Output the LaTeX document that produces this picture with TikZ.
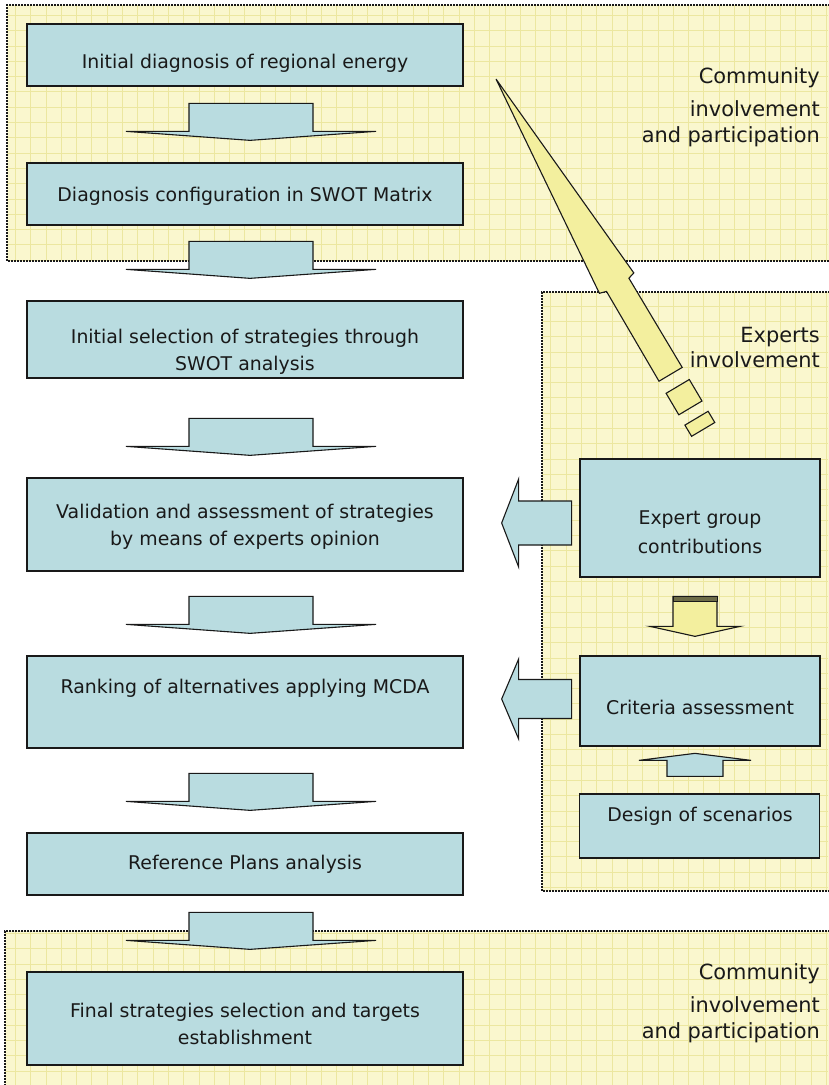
\documentclass[tikz,border=0pt]{standalone}
\usepackage{fontspec}
\setmainfont{DejaVu Sans}
\usetikzlibrary{calc}
\definecolor{boxblue}{RGB}{185,220,224}
\definecolor{regfill}{RGB}{250,247,206}
\definecolor{reggrid}{RGB}{236,231,160}
\definecolor{yarrow}{RGB}{243,239,158}
\definecolor{ink}{RGB}{25,25,25}
\newcommand\flowarrow[1]{\draw[flowarr] ($(#1.north)+(-56,-59)$) -- ++(124,0) -- ++(0,28) -- ++(63,0) -- ($(#1.north)+(5,-22)$) -- ($(#1.north)+(-119,-31)$) -- ++(63,0) -- cycle;}
\begin{document}
\begin{tikzpicture}[x=1pt,y=-1pt,
 box/.style={draw=ink, line width=1.3pt, fill=boxblue, inner sep=0pt},
 mainbox/.style={box, minimum width=436pt},
 expbox/.style={box, minimum width=240pt},
 txt/.style={text=ink, align=center, font=\fontsize{18.9}{27}\selectfont, inner sep=0pt},
 lbl/.style={text=ink, align=right, anchor=east, inner sep=0pt, font=\fontsize{20.9}{26}\selectfont},
 flowarr/.style={draw=ink, line width=1.1pt, fill=boxblue, line join=miter},
 yarr/.style={draw=ink, line width=1.1pt, fill=yarrow, line join=miter},
 gridl/.style={draw=reggrid, line width=0.8pt},
 border/.style={draw=ink, line width=2pt, dash pattern=on 1.6pt off 1.4pt}
]
\useasboundingbox (0,0) rectangle (828,1085);
\fill[white] (0,0) rectangle (828,1085);

% --- regions
\fill[regfill] (7,5) rectangle (830,261);
\draw[gridl, step=15.3pt] (7,261) grid (828,5);
\draw[border] (830,5) -- (7,5) -- (7,261) -- (830,261);

\fill[regfill] (542,292) rectangle (830,891);
\draw[gridl, step=15.3pt] (542,891) grid (828,292);
\draw[border] (830,292) -- (542,292) -- (542,891) -- (830,891);

\fill[regfill] (5,931) rectangle (830,1090);
\draw[gridl, step=15.3pt] (5,1085) grid (828,931);
\draw[border] (830,931) -- (5,931) -- (5,1090);

% --- labels
\node[lbl] (c1) at (820,107) {Community\\[7pt]involvement\\and participation};
\node[lbl, font=\fontsize{20.9}{25}\selectfont] (ex) at (820,347.5) {Experts\\involvement};
\node[lbl] (c2) at (820,1003) {Community\\[7pt]involvement\\and participation};

% --- main boxes
\node[mainbox, minimum height=62pt] (b1) at (245,55) {};
\node[mainbox, minimum height=62pt] (b2) at (245,194) {};
\node[mainbox, minimum height=77pt] (b3) at (245,339.5) {};
\node[mainbox, minimum height=93pt] (b4) at (245,524.5) {};
\node[mainbox, minimum height=92pt] (b5) at (245,702) {};
\node[mainbox, minimum height=62pt] (b6) at (245,864) {};
\node[mainbox, minimum height=93pt] (b7) at (245,1018.5) {};

\node[txt] (t1) at (245,63) {Initial diagnosis of regional energy};
\node[txt] (t2) at (245,196) {Diagnosis configuration in SWOT Matrix};
\node[txt] (t3) at (245,352) {Initial selection of strategies through\\SWOT analysis};
\node[txt] (t4) at (245,527) {Validation and assessment of strategies\\by means of experts opinion};
\node[txt] (t5) at (245,688) {Ranking of alternatives applying MCDA};
\node[txt] (t6) at (245,864) {Reference Plans analysis};
\node[txt] (t7) at (245,1024) {Final strategies selection and targets\\establishment};

% --- expert boxes
\node[expbox, minimum height=118pt] (e1) at (700,518) {};
\node[expbox, minimum height=90pt] (e2) at (700,701) {};
\node[expbox, minimum height=64pt] (e3) at (699.5,826) {};
\node[txt, font=\fontsize{18.9}{29}\selectfont] (te1) at (700,532) {Expert group\\contributions};
\node[txt] (te2) at (700,707) {Criteria assessment};
\node[txt] (te3) at (700,816) {Design of scenarios};

% --- flow arrows
\flowarrow{b2}
\flowarrow{b3}
\flowarrow{b4}
\flowarrow{b5}
\flowarrow{b6}
\flowarrow{b7}

% --- side arrows from experts
\path ($(b4.east)+(38,-1.5)$) coordinate (la1);
\draw[flowarr] (la1) -- ++(17,-44) -- ++(0,22) -- ++(53,0) -- ++(0,44) -- ++(-53,0) -- ++(0,22) -- cycle;
\path ($(b5.east)+(38,-3)$) coordinate (la2);
\draw[flowarr] (la2) -- ++(17,-40) -- ++(0,20.5) -- ++(53,0) -- ++(0,39) -- ++(-53,0) -- ++(0,20.5) -- cycle;

% --- up arrow scenarios -> criteria
\path ($(e3.north)+(-4.5,-40)$) coordinate (ua);
\draw[flowarr] (ua) -- ++(56,7) -- ++(-28,0) -- ++(0,16) -- ++(-56,0) -- ++(0,-16) -- ++(-28,0) -- cycle;

% --- yellow arrow expert group -> criteria
\path ($(e2.north)+(-5,-19)$) coordinate (ya);
\draw[yarr] (ya) -- ++(-45,-10) -- ++(23,0) -- ++(0,-30) -- ++(44,0) -- ++(0,30) -- ++(23,0) -- cycle;
\draw[draw=ink, line width=0.8pt, fill=yarrow!45!black] ($(ya)+(-22,-40)$) rectangle ++(44,5);

% --- big yellow broken arrow
\draw[yarr] (496,79) -- (633.8,272.9) -- (628.9,278.2) -- (682.2,367.4) -- (659,381.2) -- (606.5,291.4) -- (599.4,293.3) -- cycle;
\draw[yarr] (666.1,393.3) -- (689.3,379.5) -- (702,401) -- (678.8,414.8) -- cycle;
\draw[yarr] (684.9,425.1) -- (708.1,411.3) -- (714.8,422.5) -- (691.6,436.3) -- cycle;
\end{tikzpicture}
\end{document}
